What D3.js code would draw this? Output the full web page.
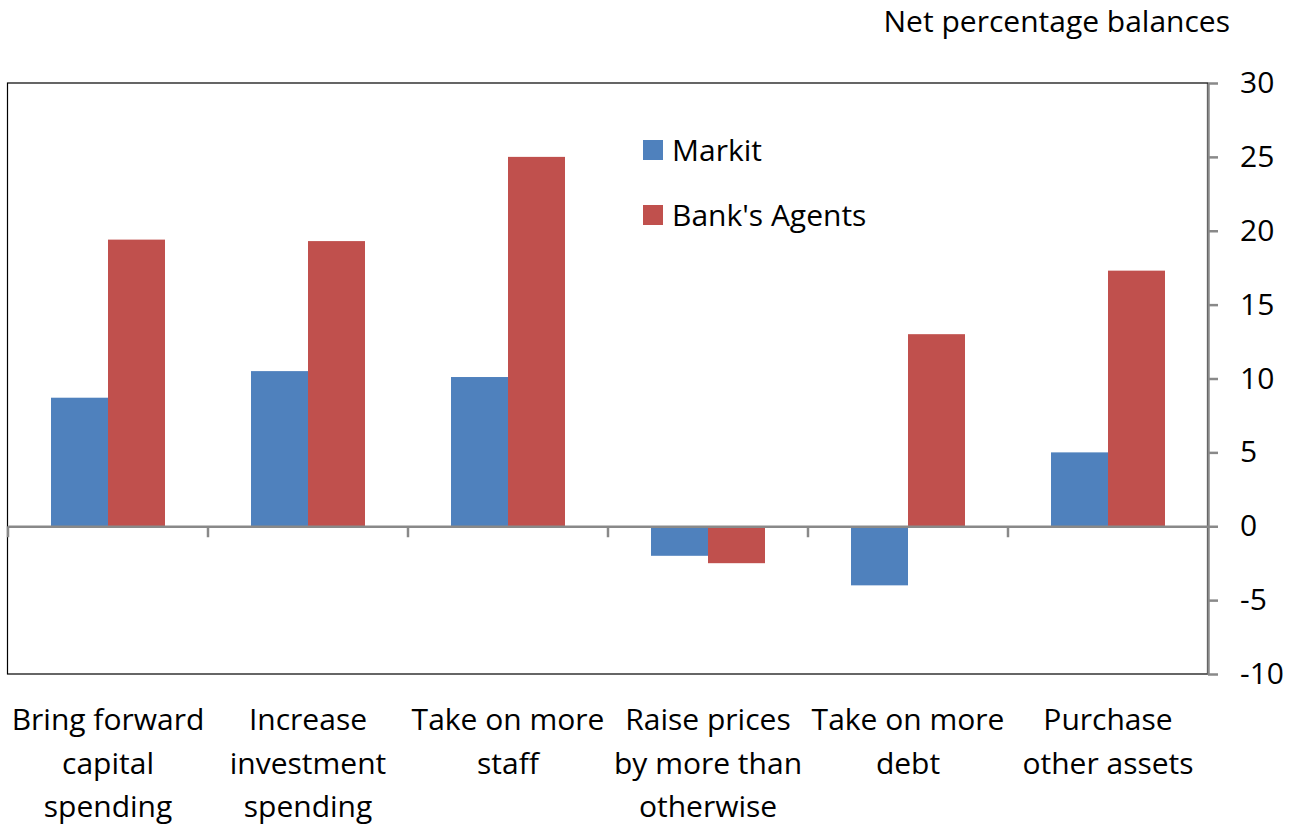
<!DOCTYPE html>
<html>
<head>
<meta charset="utf-8">
<script src="https://d3js.org/d3.v7.min.js"></script>
<style>
  body { margin: 0; background: #fff; }
  text { font-family: "Open Sans", Lato, sans-serif; fill: #000; }
</style>
</head>
<body>
<script>
  // chart data
  var categories = [
    ["Bring forward", "capital", "spending"],
    ["Increase", "investment", "spending"],
    ["Take on more", "staff"],
    ["Raise prices", "by more than", "otherwise"],
    ["Take on more", "debt"],
    ["Purchase", "other assets"]
  ];
  var markit = [8.7, 10.5, 10.1, -2.0, -4.0, 5.0];
  var agents = [19.4, 19.3, 25.0, -2.5, 13.0, 17.3];
  var seriesNames = ["Markit", "Bank's Agents"];
  var colors = ["#4f81bd", "#c0504d"];
  var yTicks = [-10, -5, 0, 5, 10, 15, 20, 25, 30];

  var W = 1297, H = 829;
  var pLeft = 8, pRight = 1208, pTop = 83, pBottom = 674;
  var fs = 30;

  var svg = d3.select("body").append("svg")
      .attr("width", W)
      .attr("height", H);

  var x = d3.scaleBand()
      .domain(d3.range(categories.length))
      .range([pLeft, pRight]);

  var y = d3.scaleLinear()
      .domain([-10, 30])
      .range([pBottom, pTop]);

  var barW = x.bandwidth() * 0.285;
  var offset = (x.bandwidth() - 2 * barW) / 2;

  // plot frame
  svg.append("rect")
      .attr("x", pLeft - 0.5)
      .attr("y", pTop)
      .attr("width", pRight - pLeft)
      .attr("height", pBottom - pTop)
      .attr("fill", "none")
      .attr("stroke", "#000")
      .attr("stroke-width", 1.2);

  // bars
  [markit, agents].forEach(function(vals, s) {
    svg.append("g").selectAll("rect")
        .data(vals)
        .enter().append("rect")
        .attr("x", (d, i) => x(i) + offset + s * barW)
        .attr("width", barW)
        .attr("y", d => y(Math.max(0, d)))
        .attr("height", d => Math.abs(y(d) - y(0)))
        .attr("fill", colors[s]);
  });

  // zero line with category ticks
  var xAxis = svg.append("g")
      .attr("transform", "translate(0," + y(0) + ")")
      .call(d3.axisBottom(x).tickSize(0).tickFormat(""));
  xAxis.select(".domain").attr("stroke", "#898989").attr("stroke-width", 2.5);
  xAxis.selectAll(".cat-tick")
      .data(d3.range(categories.length))
      .enter().append("line")
      .attr("class", "cat-tick")
      .attr("x1", d => x(d)).attr("x2", d => x(d))
      .attr("y1", 0).attr("y2", 11)
      .attr("stroke", "#898989").attr("stroke-width", 2.5);

  // right value axis
  var yAxis = svg.append("g")
      .attr("transform", "translate(" + pRight + ",0)")
      .call(d3.axisRight(y).tickValues(yTicks).tickSize(10).tickPadding(22)
        .tickSizeOuter(0).tickFormat(d => String(d)));
  yAxis.select(".domain").attr("stroke", "#898989").attr("stroke-width", 2.5);
  yAxis.selectAll(".tick line").attr("stroke", "#898989").attr("stroke-width", 2.5);
  yAxis.selectAll(".tick text")
      .style("font-family", "'Open Sans', Lato, sans-serif")
      .attr("font-size", fs)
      .attr("fill", "#000");

  // category labels
  svg.append("g").selectAll("text")
      .data(categories)
      .enter().append("text")
      .attr("text-anchor", "middle")
      .attr("font-size", fs)
      .each(function(lines, i) {
        var t = d3.select(this);
        lines.forEach(function(line, k) {
          t.append("tspan")
              .attr("x", x(i) + x.bandwidth() / 2)
              .attr("y", 730 + k * 43.5)
              .text(line);
        });
      });

  // axis title
  svg.append("text")
      .attr("x", 1230)
      .attr("y", 32)
      .attr("text-anchor", "end")
      .attr("font-size", fs)
      .text("Net percentage balances");

  // legend
  var legend = svg.append("g");
  seriesNames.forEach(function(name, i) {
    var ly = 150 + i * 65;
    legend.append("rect")
        .attr("x", 643).attr("y", ly - 10)
        .attr("width", 20).attr("height", 20)
        .attr("fill", colors[i]);
    legend.append("text")
        .attr("x", 672).attr("y", ly + 11)
        .attr("font-size", fs)
        .text(name);
  });
</script>
</body>
</html>
